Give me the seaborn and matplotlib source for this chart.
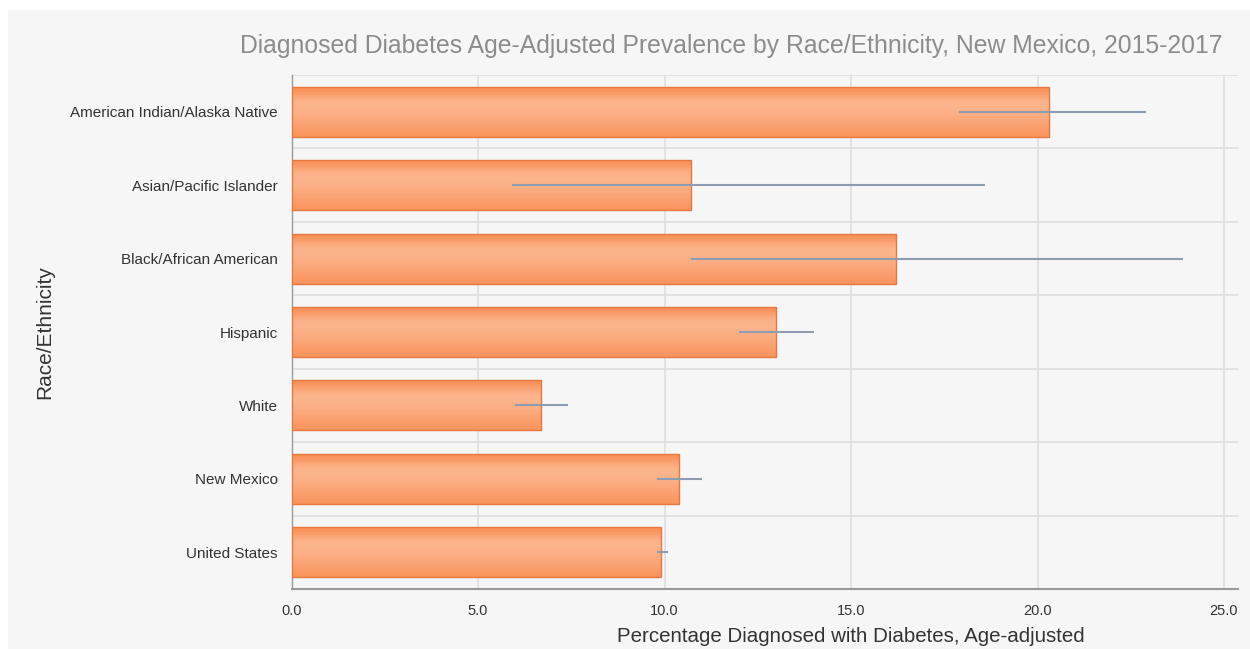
import numpy as np
import pandas as pd
import matplotlib
matplotlib.use("Agg")
import matplotlib.pyplot as plt
from matplotlib.patches import Rectangle
from matplotlib.ticker import FixedLocator
import seaborn as sns

# Data
groups = ["American Indian/Alaska Native", "Asian/Pacific Islander",
          "Black/African American", "Hispanic", "White", "New Mexico",
          "United States"]
prevalence = [20.3, 10.7, 16.2, 13.0, 6.7, 10.4, 9.9]
ci_low = [17.9, 5.9, 10.7, 12.0, 6.0, 9.8, 9.8]
ci_high = [22.9, 18.6, 23.9, 14.0, 7.4, 11.0, 10.1]
x_ticks = [0, 5, 10, 15, 20, 25]

df = pd.DataFrame({"group": groups, "value": prevalence})

sns.set_theme(style="white")
plt.rcParams["font.family"] = ["Liberation Sans", "DejaVu Sans"]

W, H = 1250, 649
fig = plt.figure(figsize=(W / 100, H / 100), dpi=100, facecolor="white")
bg = "#f6f6f6"
fig.patches.append(Rectangle((8 / W, 0), 1 - 8 / W, 1 - 10 / H,
                             transform=fig.transFigure, facecolor=bg,
                             edgecolor="none", zorder=-10))

ax = fig.add_axes([291.5 / W, 1 - 589 / H, (1238 - 291.5) / W, (589 - 75) / H])
ax.set_facecolor(bg)

sns.barplot(data=df, x="value", y="group", orient="h", color="#fb9a66",
            width=0.68, ax=ax, errorbar=None, zorder=3)

# vertical shading on each bar: darker rim, lighter band in the upper third
ramp = np.linspace(0, 1, 96)
shade = np.where(ramp < 0.33,
                 np.exp(-((ramp - 0.33) / 0.22) ** 2),
                 np.exp(-((ramp - 0.33) / 0.55) ** 2))
c_edge = np.array(matplotlib.colors.to_rgb("#f98c52"))
c_mid = np.array(matplotlib.colors.to_rgb("#fcb48c"))
grad = c_edge[None, :] * (1 - shade[:, None]) + c_mid[None, :] * shade[:, None]
grad = grad[:, None, :]

for patch in ax.patches:
    x0, y0 = patch.get_x(), patch.get_y()
    w, h = patch.get_width(), patch.get_height()
    img = ax.imshow(grad, extent=[x0, x0 + w, y0 + h, y0], aspect="auto",
                    origin="upper", zorder=3.5, interpolation="bilinear")
    img.set_clip_path(patch)
    patch.set_facecolor("none")
    patch.set_edgecolor("#e5783f")
    patch.set_linewidth(1.0)
    patch.set_zorder(4)

# confidence intervals
ypos = np.arange(len(groups))
ax.hlines(ypos, ci_low, ci_high, color="#8d9cb0", linewidth=1.5, zorder=5)

ax.set_xlim(0, (1238 - 291.5) / 37.3)
ax.set_ylim(len(groups) - 0.5, -0.5)
ax.set_xticks(x_ticks)
ax.set_xticklabels([f"{t:.1f}" for t in x_ticks], fontsize=10.5, color="#333333")
ax.yaxis.set_minor_locator(FixedLocator(np.arange(-0.5, len(groups), 1.0)))
ax.tick_params(axis="y", which="major", length=0, labelsize=11,
               labelcolor="#333333", pad=10)
ax.tick_params(axis="y", which="minor", length=5, color="#999999", width=1)
ax.tick_params(axis="x", which="major", length=5, color="#999999", width=1,
               labelsize=10.5, pad=6)

ax.grid(axis="x", which="major", color="#dedede", linewidth=1.2, zorder=0)
ax.grid(axis="y", which="minor", color="#dedede", linewidth=1.2, zorder=0)
ax.set_axisbelow(True)

for s in ["top", "right"]:
    ax.spines[s].set_visible(False)
ax.spines["left"].set_color("#999999")
ax.spines["left"].set_linewidth(1.0)
ax.spines["bottom"].set_color("#999999")
ax.spines["bottom"].set_linewidth(1.5)

axw = 1238 - 291.5
ax.set_xlabel("Percentage Diagnosed with Diabetes, Age-adjusted",
              fontsize=14.8, color="#333333")
ax.xaxis.set_label_coords((851 - 291.5) / axw, -(636 - 589) / (589 - 75))
ax.xaxis.label.set_va("center")
ax.set_ylabel("Race/Ethnicity", fontsize=15, color="#333333")
ax.yaxis.set_label_coords(-(291.5 - 45) / axw, 0.5)
ax.yaxis.label.set_va("center")

fig.text(1223 / W, 1 - 46 / H,
         "Diagnosed Diabetes Age-Adjusted Prevalence by Race/Ethnicity, New Mexico, 2015-2017",
         ha="right", va="center", fontsize=17.8, color="#8c8c8c")

fig.savefig("out.png", dpi=100, facecolor="white")
